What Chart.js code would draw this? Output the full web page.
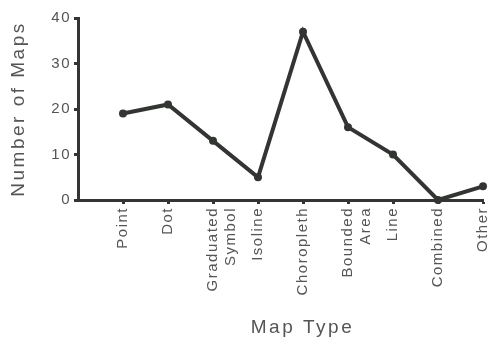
<!DOCTYPE html>
<html>
<head>
<meta charset="utf-8">
<script src="https://cdn.jsdelivr.net/npm/chart.js@4"></script>
<style>
  html, body { margin: 0; padding: 0; background: #fff; }
  #wrap { width: 487px; height: 342px; }
</style>
</head>
<body>
<div id="wrap"><canvas id="myChart"></canvas></div>
<script>
// map types and counts
const mapTypes = ['Point', 'Dot', ['Graduated', 'Symbol'], 'Isoline', 'Choropleth',
                  ['Bounded', 'Area'], 'Line', 'Combined', 'Other'];
const mapCounts = [19, 21, 13, 5, 37, 16, 10, 0, 3];
const yTicks = [0, 10, 20, 30, 40];

const ink = '#333533';
const textGrey = '#555';

Chart.defaults.font.family = '"Liberation Sans", Arial, sans-serif';

// spaced-out lettering like the printed figure; titles get wider spacing
const spacing = {
    id: 'spacing',
    beforeInit(chart) { chart.ctx.letterSpacing = '1.5px'; },
    beforeUpdate(chart) { chart.ctx.letterSpacing = '1.5px'; },
    afterLayout(chart) {
        Object.values(chart.scales).forEach(scale => {
            if (scale._wideTitle) return;
            const orig = scale.drawTitle.bind(scale);
            scale.drawTitle = function () {
                const c = this.ctx;
                c.save();
                c.letterSpacing = '2.5px';
                // x title sits a little right of the plot centre in the original
                if (this.axis === 'x') c.translate(22, 0);
                orig();
                c.restore();
            };
            scale._wideTitle = true;
        });
    },
    beforeDraw(chart) { chart.ctx.letterSpacing = '1.5px'; }
};

const ctx = document.getElementById('myChart').getContext('2d');

const myChart = new Chart(ctx, {
    type: 'line',
    data: {
        datasets: [{
            label: 'Number of Maps',
            data: mapCounts.map((v, i) => ({ x: i + 1, y: v })),
            borderColor: ink,
            backgroundColor: ink,
            borderWidth: 4,
            pointRadius: 4,
            pointBackgroundColor: ink,
            pointBorderWidth: 0,
            tension: 0,
            clip: false
        }]
    },
    options: {
        responsive: true,
        maintainAspectRatio: false,
        animation: false,
        layout: { padding: { top: 18, right: 2, left: 0, bottom: 0 } },
        plugins: {
            legend: { display: false },
            tooltip: { enabled: false }
        },
        scales: {
            x: {
                type: 'linear',
                min: 0,
                max: mapTypes.length,
                afterFit(scale) {
                    scale.height = 142;
                    scale.paddingRight = 0;
                    scale.paddingLeft = 0;
                },
                afterBuildTicks(scale) {
                    scale.ticks = mapTypes.map((_, i) => ({ value: i + 1 }));
                },
                ticks: {
                    autoSkip: false,
                    minRotation: 90,
                    maxRotation: 90,
                    color: textGrey,
                    font: { size: 15 },
                    padding: 3,
                    callback: (v) => mapTypes[v - 1] || ''
                },
                grid: {
                    drawOnChartArea: false,
                    tickLength: 4,
                    tickColor: ink,
                    tickWidth: 3
                },
                border: { color: ink, width: 3 },
                title: {
                    display: true,
                    text: 'Map Type',
                    color: textGrey,
                    font: { size: 19 },
                    padding: { top: 0, bottom: 3 }
                }
            },
            y: {
                min: 0,
                max: 40,
                afterFit(scale) {
                    scale.width = 78;
                    scale.paddingTop = 0;
                    scale.paddingBottom = 0;
                },
                afterBuildTicks(scale) {
                    scale.ticks = yTicks.map(v => ({ value: v }));
                },
                ticks: {
                    color: textGrey,
                    font: { size: 15 },
                    padding: 3
                },
                grid: {
                    drawOnChartArea: false,
                    tickLength: 4,
                    tickColor: ink,
                    tickWidth: 3
                },
                border: { color: ink, width: 3 },
                title: {
                    display: true,
                    text: 'Number of Maps',
                    color: textGrey,
                    font: { size: 19 },
                    padding: { top: 7, bottom: 0 }
                }
            }
        }
    },
    plugins: [spacing]
});
</script>
</body>
</html>
